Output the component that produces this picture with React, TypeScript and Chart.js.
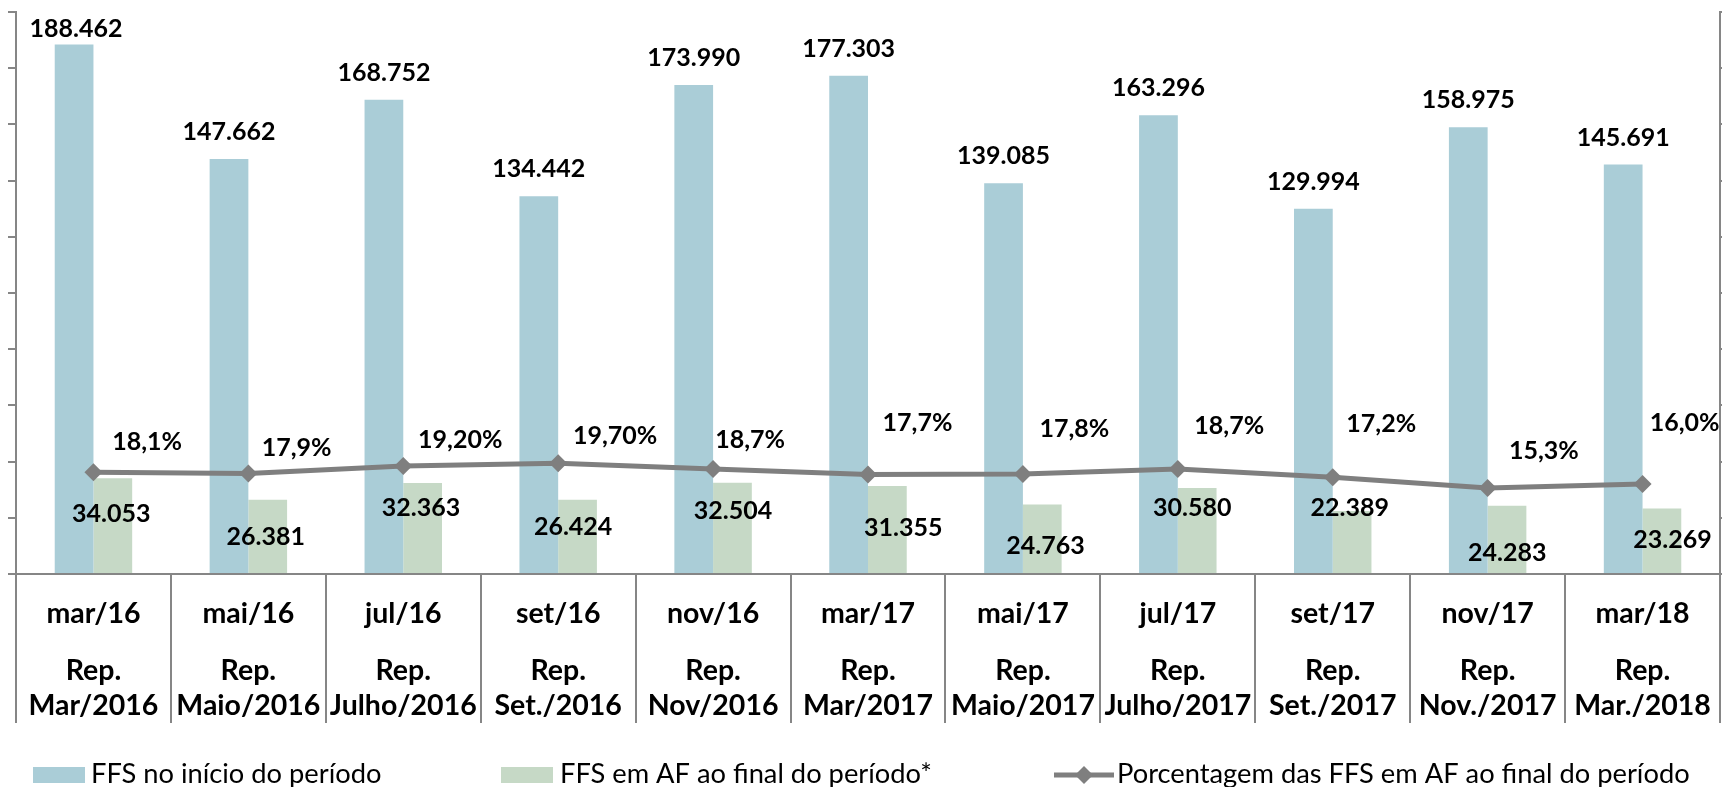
import React, { useEffect, useRef } from 'react';
import { Chart, registerables } from 'chart.js';

Chart.register(...registerables);

// ---------- data ----------
const periods = ['mar/16', 'mai/16', 'jul/16', 'set/16', 'nov/16', 'mar/17', 'mai/17', 'jul/17', 'set/17', 'nov/17', 'mar/18'];
const reports = ['Mar/2016', 'Maio/2016', 'Julho/2016', 'Set./2016', 'Nov/2016', 'Mar/2017', 'Maio/2017', 'Julho/2017', 'Set./2017', 'Nov./2017', 'Mar./2018'];
const ffsInicio = [188462, 147662, 168752, 134442, 173990, 177303, 139085, 163296, 129994, 158975, 145691];
const ffsAF = [34053, 26381, 32363, 26424, 32504, 31355, 24763, 30580, 22389, 24283, 23269];
const pctAF = [18.1, 17.9, 19.2, 19.7, 18.7, 17.7, 17.8, 18.7, 17.2, 15.3, 16.0];
const pctDecimals = [1, 1, 2, 2, 1, 1, 1, 1, 1, 1, 1];
const seriesNames = [
  'FFS no início do período',
  'FFS em AF ao final do período*',
  'Porcentagem das FFS em AF ao final do período',
];
const yMax = 200000;
const yStep = 20000;
const y1Max = 1;
const y1Step = 0.1;

// ---------- styling / label placement ----------
const COLORS = { blue: '#AACDD7', green: '#C6D9C6', line: '#7F7F7F', axis: '#868686', text: '#000000' };
const LABEL_SIZE = 25;
const LABEL_FONT = `bold ${LABEL_SIZE}px Lato`;
const CAT_SIZE = 28.5;
const CAP = 0.358;
// label offsets (dx, dy) for green bar labels, relative to bar middle
const afLabelOffsets: [number, number][] = [
  [-1.5, -13], [-2, 0], [-1.7, -21], [-4.4, -10], [0.5, -18], [15.8, -2], [3.3, 6.5], [-5, -23.5], [-2.4, -35], [0.3, 13], [10.6, -1.5],
];
// label offsets (dx, dy) for percentage labels, relative to line point
const pctLabelOffsets: [number, number][] = [
  [53.7, -31.3], [48.2, -26.4], [57, -27.1], [57, -28.7], [37, -29.5], [49.5, -52.8], [51.4, -45.7], [51.4, -43.5], [48.5, -53.8], [56.2, -37.8], [42, -62.4],
];

function fmtThousands(n: number): string {
  return String(n).replace(/\B(?=(\d{3})+(?!\d))/g, '.');
}
function fmtPct(v: number, d: number): string {
  return v.toFixed(d).replace('.', ',') + '%';
}

const valueLabelsPlugin = {
  id: 'valueLabels',
  afterDatasetsDraw(chart: any) {
    const ctx = chart.ctx as CanvasRenderingContext2D;
    ctx.save();
    ctx.font = LABEL_FONT;
    ctx.fillStyle = COLORS.text;
    ctx.textAlign = 'center';
    ctx.textBaseline = 'alphabetic';
    const put = (t: string, x: number, cy: number) => ctx.fillText(t, x, cy + CAP * LABEL_SIZE);

    const m0 = chart.getDatasetMeta(0);
    m0.data.forEach((el: any, i: number) => {
      const cy = Math.max(el.y - 28, chart.chartArea.top + 16);
      put(fmtThousands(ffsInicio[i]), el.x + (i === 0 ? 2 : 0), cy);
    });
    const m1 = chart.getDatasetMeta(1);
    m1.data.forEach((el: any, i: number) => {
      const o = afLabelOffsets[i];
      put(fmtThousands(ffsAF[i]), el.x + o[0], (el.y + el.base) / 2 + o[1]);
    });
    const m2 = chart.getDatasetMeta(2);
    m2.data.forEach((el: any, i: number) => {
      const o = pctLabelOffsets[i];
      put(fmtPct(pctAF[i], pctDecimals[i]), el.x + o[0], el.y + o[1]);
    });
    ctx.restore();
  },
};

const LEGEND = {
  boxY: 767,
  boxH: 16,
  boxW: 52,
  baseline: 783,
  centerY: 775,
  font: '27.3px Lato',
  items: [
    { x: 33, textX: 91 },
    { x: 501, textX: 560 },
    { x: 1054, textX: 1117 },
  ],
};

const legendPlugin = {
  id: 'bottomLegend',
  afterDraw(chart: any) {
    const ctx = chart.ctx as CanvasRenderingContext2D;
    const ds = chart.data.datasets;
    ctx.save();
    ctx.font = LEGEND.font;
    ctx.textAlign = 'left';
    ctx.textBaseline = 'alphabetic';
    for (let i = 0; i < 2; i++) {
      const it = LEGEND.items[i];
      ctx.fillStyle = ds[i].backgroundColor;
      ctx.fillRect(it.x, LEGEND.boxY, LEGEND.boxW, LEGEND.boxH);
      ctx.fillStyle = COLORS.text;
      ctx.fillText(ds[i].label, it.textX, LEGEND.baseline);
    }
    const it = LEGEND.items[2];
    ctx.strokeStyle = ds[2].borderColor;
    ctx.lineWidth = 5;
    ctx.beginPath();
    ctx.moveTo(it.x, LEGEND.centerY);
    ctx.lineTo(it.x + 60, LEGEND.centerY);
    ctx.stroke();
    const cx = it.x + 30;
    const r = 9;
    ctx.fillStyle = ds[2].borderColor;
    ctx.beginPath();
    ctx.moveTo(cx, LEGEND.centerY - r);
    ctx.lineTo(cx + r, LEGEND.centerY);
    ctx.lineTo(cx, LEGEND.centerY + r);
    ctx.lineTo(cx - r, LEGEND.centerY);
    ctx.closePath();
    ctx.fill();
    ctx.fillStyle = COLORS.text;
    ctx.fillText(ds[2].label, it.textX, LEGEND.baseline);
    ctx.restore();
  },
};

export default function App() {
  const ref = useRef<HTMLCanvasElement>(null);

  useEffect(() => {
    if (!ref.current) return;
    const reportLabels = reports.map((r) => ['Rep.', r]);
    const chart = new Chart(ref.current, {
      type: 'bar',
      data: {
        labels: periods,
        datasets: [
          {
            type: 'bar',
            label: seriesNames[0],
            data: ffsInicio,
            backgroundColor: COLORS.blue,
            borderWidth: 0,
            xAxisID: 'x',
            yAxisID: 'y',
            order: 1,
            categoryPercentage: 0.5,
            barPercentage: 1,
          },
          {
            type: 'bar',
            label: seriesNames[1],
            data: ffsAF,
            backgroundColor: COLORS.green,
            borderWidth: 0,
            xAxisID: 'x',
            yAxisID: 'y',
            order: 1,
            categoryPercentage: 0.5,
            barPercentage: 1,
          },
          {
            type: 'line',
            label: seriesNames[2],
            data: pctAF.map((v) => v / 100),
            borderColor: COLORS.line,
            backgroundColor: COLORS.line,
            borderWidth: 5,
            pointStyle: 'rectRot',
            pointRadius: 9,
            pointBackgroundColor: COLORS.line,
            pointBorderColor: COLORS.line,
            pointBorderWidth: 0,
            tension: 0,
            xAxisID: 'x',
            yAxisID: 'y1',
            order: 0,
          },
        ],
      } as any,
      options: {
        responsive: false,
        animation: false,
        devicePixelRatio: 1,
        layout: { padding: { left: 8, right: 0, top: 12, bottom: 64 } },
        plugins: { legend: { display: false }, tooltip: { enabled: false } },
        scales: {
          x: {
            type: 'category',
            position: 'bottom',
            weight: 0,
            offset: true,
            grid: { display: true, offset: true, drawOnChartArea: false, drawTicks: true, tickLength: 56, color: COLORS.axis, lineWidth: 2 },
            border: { display: true, color: COLORS.axis, width: 2 },
            ticks: {
              autoSkip: false,
              maxRotation: 0,
              minRotation: 0,
              padding: -33.3,
              color: COLORS.text,
              font: { family: 'Lato', size: CAT_SIZE, weight: 'bold' },
            },
            afterFit: (s: any) => {
              s.height = 56;
            },
          },
          x2: {
            type: 'category',
            axis: 'x',
            position: 'bottom',
            weight: 1,
            labels: reportLabels,
            offset: true,
            grid: { display: true, offset: true, drawOnChartArea: false, drawTicks: true, tickLength: 93, color: COLORS.axis, lineWidth: 2 },
            border: { display: false },
            ticks: {
              autoSkip: false,
              maxRotation: 0,
              minRotation: 0,
              padding: -70,
              color: COLORS.text,
              font: { family: 'Lato', size: CAT_SIZE, weight: 'bold', lineHeight: '35.5px' },
            },
            afterFit: (s: any) => {
              s.height = 93;
            },
          },
          y: {
            type: 'linear',
            position: 'left',
            min: 0,
            max: yMax,
            ticks: { display: false, stepSize: yStep },
            grid: { drawOnChartArea: false, drawTicks: true, tickLength: 8, color: COLORS.axis, lineWidth: 2 },
            border: { display: true, color: COLORS.axis, width: 2 },
          },
          y1: {
            type: 'linear',
            position: 'right',
            min: 0,
            max: y1Max,
            ticks: { display: false, stepSize: y1Step },
            grid: { drawOnChartArea: false, drawTicks: true, tickLength: 2, color: COLORS.axis, lineWidth: 2 },
            border: { display: true, color: COLORS.axis, width: 2 },
          },
        },
      } as any,
      plugins: [valueLabelsPlugin, legendPlugin],
    });
    return () => chart.destroy();
  }, []);

  return (
    <div style={{ position: 'absolute', left: 0, top: 0, width: 1729, height: 787, overflow: 'hidden', background: '#ffffff' }}>
      <canvas ref={ref} width={1729} height={787} style={{ display: 'block', width: 1729, height: 787 }} />
    </div>
  );
}
